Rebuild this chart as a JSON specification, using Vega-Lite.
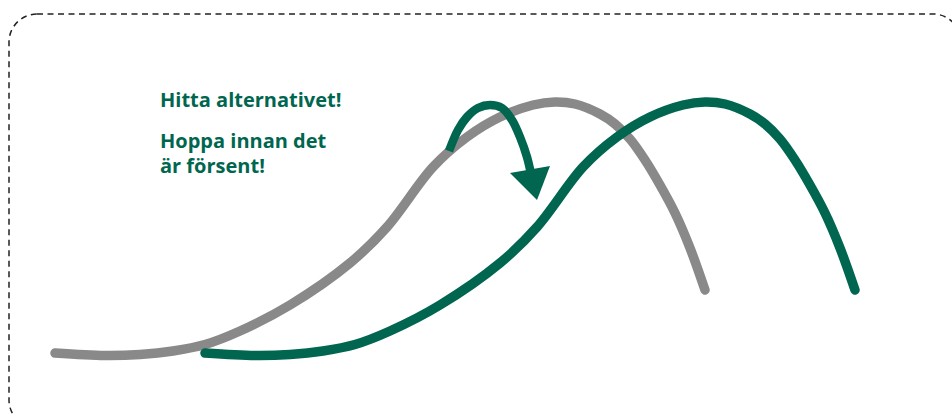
{
  "$schema": "https://vega.github.io/schema/vega-lite/v6.json",
  "width": 952,
  "height": 414,
  "padding": 0,
  "autosize": {"type": "none"},
  "background": "white",
  "config": {"view": {"stroke": null}},
  "datasets": {
    "frame": [{"x0": 9, "x1": 961, "y0": 14, "y1": 428}],
    "curves": [
      {"s": "old", "x": 55, "y": 353}, {"s": "old", "x": 105, "y": 355.5}, {"s": "old", "x": 140, "y": 354.5},
      {"s": "old", "x": 173, "y": 351}, {"s": "old", "x": 205, "y": 344.5},
      {"s": "old", "x": 240, "y": 331}, {"s": "old", "x": 290, "y": 305}, {"s": "old", "x": 350, "y": 263},
      {"s": "old", "x": 387, "y": 227}, {"s": "old", "x": 433, "y": 167}, {"s": "old", "x": 467, "y": 137},
      {"s": "old", "x": 500, "y": 117}, {"s": "old", "x": 533, "y": 105}, {"s": "old", "x": 555, "y": 102},
      {"s": "old", "x": 575, "y": 104}, {"s": "old", "x": 600, "y": 114}, {"s": "old", "x": 615, "y": 124},
      {"s": "old", "x": 630, "y": 139}, {"s": "old", "x": 645, "y": 160}, {"s": "old", "x": 660, "y": 185},
      {"s": "old", "x": 675, "y": 213}, {"s": "old", "x": 690, "y": 248}, {"s": "old", "x": 705, "y": 290},
      {"s": "new", "x": 205, "y": 353}, {"s": "new", "x": 255, "y": 355.5}, {"s": "new", "x": 290, "y": 354.5},
      {"s": "new", "x": 323, "y": 351}, {"s": "new", "x": 355, "y": 344.5},
      {"s": "new", "x": 390, "y": 331}, {"s": "new", "x": 440, "y": 305}, {"s": "new", "x": 500, "y": 263},
      {"s": "new", "x": 537, "y": 227}, {"s": "new", "x": 583, "y": 167}, {"s": "new", "x": 617, "y": 137},
      {"s": "new", "x": 650, "y": 117}, {"s": "new", "x": 683, "y": 105}, {"s": "new", "x": 705, "y": 102},
      {"s": "new", "x": 725, "y": 104}, {"s": "new", "x": 750, "y": 114}, {"s": "new", "x": 765, "y": 124},
      {"s": "new", "x": 780, "y": 139}, {"s": "new", "x": 795, "y": 160}, {"s": "new", "x": 810, "y": 185},
      {"s": "new", "x": 825, "y": 213}, {"s": "new", "x": 840, "y": 248}, {"s": "new", "x": 855, "y": 290}
    ],
    "arrow": [
      {"x": 449, "y": 151}, {"x": 458, "y": 130}, {"x": 467, "y": 117}, {"x": 478, "y": 108},
      {"x": 490, "y": 105}, {"x": 502, "y": 108}, {"x": 512, "y": 120}, {"x": 520, "y": 137},
      {"x": 527, "y": 157}, {"x": 531, "y": 174}
    ],
    "head": [{"x": 532.3, "y": 179.7}],
    "labels": [
      {"x": 160, "y": 107, "t": "Hitta alternativet!"},
      {"x": 160, "y": 148, "t": "Hoppa innan det"},
      {"x": 160, "y": 173, "t": "är försent!"}
    ]
  },
  "layer": [
    {
      "data": {"name": "frame"},
      "mark": {"type": "rect", "clip": true, "fill": "transparent", "stroke": "#222222", "strokeWidth": 1.5, "strokeDash": [6, 4.5], "cornerRadius": 28},
      "encoding": {
        "x": {"field": "x0", "type": "quantitative", "scale": {"domain": [0, 952], "nice": false, "zero": false}, "axis": null},
        "x2": {"field": "x1"},
        "y": {"field": "y0", "type": "quantitative", "scale": {"domain": [0, 414], "reverse": true, "nice": false, "zero": false}, "axis": null},
        "y2": {"field": "y1"}
      }
    },
    {
      "data": {"name": "curves"},
      "mark": {"type": "line", "strokeWidth": 9.5, "strokeCap": "round", "interpolate": "catmull-rom"},
      "encoding": {
        "x": {"field": "x", "type": "quantitative"},
        "y": {"field": "y", "type": "quantitative"},
        "color": {"field": "s", "type": "nominal", "scale": {"domain": ["old", "new"], "range": ["#898989", "#00664f"]}, "legend": null},
        "order": {"field": "x", "type": "quantitative"}
      }
    },
    {
      "data": {"name": "arrow"},
      "mark": {"type": "line", "strokeWidth": 8.5, "strokeCap": "butt", "interpolate": "catmull-rom", "color": "#00664f"},
      "encoding": {
        "x": {"field": "x", "type": "quantitative"},
        "y": {"field": "y", "type": "quantitative"}
      }
    },
    {
      "data": {"name": "head"},
      "mark": {"type": "point", "filled": true, "opacity": 1, "color": "#00664f", "strokeWidth": 0, "size": 1600, "shape": "M-1.115,-0.335L0.885,-0.685L0.235,1.015Z"},
      "encoding": {
        "x": {"field": "x", "type": "quantitative"},
        "y": {"field": "y", "type": "quantitative"}
      }
    },
    {
      "data": {"name": "labels"},
      "mark": {"type": "text", "align": "left", "baseline": "alphabetic", "font": "Open Sans", "fontSize": 20, "fontWeight": "bold", "color": "#00664f"},
      "encoding": {
        "x": {"field": "x", "type": "quantitative"},
        "y": {"field": "y", "type": "quantitative"},
        "text": {"field": "t"}
      }
    }
  ]
}
